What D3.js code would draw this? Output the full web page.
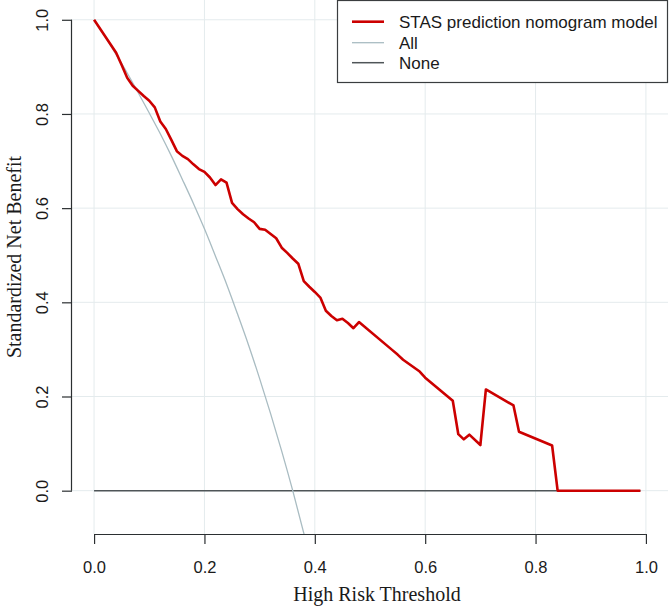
<!DOCTYPE html>
<html>
<head>
<meta charset="utf-8">
<script src="https://cdn.jsdelivr.net/npm/d3@7"></script>
<style>
  html, body { margin: 0; padding: 0; background: #fff; }
  svg { display: block; }
</style>
</head>
<body>
<svg id="chart" width="669" height="608"></svg>
<script>
// ---- data ----
const seriesNames = ["STAS prediction nomogram model", "All", "None"];

const modelThresholds = [0, 0.04, 0.05, 0.06, 0.07, 0.08, 0.09, 0.10, 0.11, 0.12, 0.13, 0.14, 0.15, 0.16, 0.17, 0.18, 0.19, 0.20,
  0.21, 0.22, 0.23, 0.24, 0.25, 0.26, 0.27, 0.28, 0.29, 0.30, 0.31, 0.32, 0.33, 0.34, 0.35, 0.36, 0.37, 0.38, 0.39, 0.40,
  0.41, 0.42, 0.43, 0.44, 0.45, 0.46, 0.47, 0.48, 0.54, 0.55, 0.56, 0.59, 0.60, 0.65, 0.66, 0.67, 0.68, 0.70,
  0.71, 0.76, 0.77, 0.83, 0.84, 0.99];
const modelBenefit = [1.000, 0.930, 0.904, 0.877, 0.860, 0.849, 0.838, 0.828, 0.814, 0.784, 0.768, 0.745, 0.721, 0.711, 0.704, 0.693, 0.683, 0.677,
  0.665, 0.649, 0.661, 0.654, 0.611, 0.598, 0.587, 0.578, 0.570, 0.556, 0.554, 0.545, 0.536, 0.516, 0.505, 0.493, 0.482, 0.445, 0.433, 0.422,
  0.410, 0.382, 0.371, 0.362, 0.365, 0.356, 0.345, 0.358, 0.299, 0.289, 0.278, 0.253, 0.240, 0.191, 0.120, 0.109, 0.119, 0.097,
  0.215, 0.181, 0.125, 0.096, 0.000, 0.000];

const allThresholds = [0, 0.02, 0.04, 0.06, 0.08, 0.10, 0.12, 0.14, 0.16, 0.18, 0.20, 0.22, 0.24, 0.26, 0.28, 0.30, 0.32, 0.34, 0.36, 0.38, 0.39];
const allBenefit = [1.000, 0.964, 0.926, 0.887, 0.845, 0.802, 0.758, 0.711, 0.661, 0.610, 0.556, 0.498, 0.439, 0.375, 0.309, 0.238, 0.163, 0.084, 0.000, -0.090, -0.137];

const noneThresholds = [0, 0.99];
const noneBenefit = [0, 0];

const xTicks = [0, 0.2, 0.4, 0.6, 0.8, 1.0];
const yTicks = [0, 0.2, 0.4, 0.6, 0.8, 1.0];
const xTitle = "High Risk Threshold";
const yTitle = "Standardized Net Benefit";

// ---- layout ----
const svg = d3.select("#chart");
const plot = { left: 72, right: 668, top: 0, bottom: 534 };
const x = d3.scaleLinear().domain([-0.04, 1.04]).range([plot.left, plot.right]);
const y = d3.scaleLinear().domain([-0.092, 1.042]).range([plot.bottom, plot.top]);

const colors = { model: "#cc0000", all: "#a9bcc2", none: "#4f5558", grid: "#e4ebed", axis: "#2b2f31" };

svg.append("defs").append("clipPath").attr("id", "clip")
  .append("rect").attr("x", plot.left).attr("y", plot.top)
  .attr("width", plot.right - plot.left).attr("height", plot.bottom - plot.top);

// grid
const grid = svg.append("g");
grid.selectAll("line.v").data(xTicks).join("line")
  .attr("x1", d => x(d)).attr("x2", d => x(d))
  .attr("y1", plot.top).attr("y2", plot.bottom)
  .attr("stroke", colors.grid).attr("stroke-width", 1);
grid.selectAll("line.h").data(yTicks).join("line")
  .attr("y1", d => y(d)).attr("y2", d => y(d))
  .attr("x1", plot.left).attr("x2", plot.right)
  .attr("stroke", colors.grid).attr("stroke-width", 1);

const line = d3.line().x(d => x(d[0])).y(d => y(d[1]));
const lines = svg.append("g").attr("clip-path", "url(#clip)");

lines.append("path").datum(noneThresholds.map((t, i) => [t, noneBenefit[i]]))
  .attr("d", line).attr("fill", "none").attr("stroke", colors.none).attr("stroke-width", 1.5);
lines.append("path").datum(allThresholds.map((t, i) => [t, allBenefit[i]]))
  .attr("d", d3.line().x(d => x(d[0])).y(d => y(d[1])).curve(d3.curveMonotoneX))
  .attr("fill", "none").attr("stroke", colors.all).attr("stroke-width", 1.3);
lines.append("path").datum(modelThresholds.map((t, i) => [t, modelBenefit[i]]))
  .attr("d", line).attr("fill", "none").attr("stroke", colors.model)
  .attr("stroke-width", 2.6).attr("stroke-linejoin", "round");

// axes
const tickFont = "'Liberation Sans', Arial, sans-serif";
const fmt = d3.format(".1f");
const xAxis = svg.append("g").attr("transform", `translate(0,${plot.bottom})`)
  .call(d3.axisBottom(x).tickValues(xTicks).tickSize(10).tickFormat(fmt));
xAxis.select(".domain").remove();
xAxis.append("line").attr("x1", x(0)).attr("x2", x(1)).attr("y1", 0.5).attr("y2", 0.5)
  .attr("stroke", colors.axis).attr("stroke-width", 1.2);
xAxis.selectAll(".tick line").attr("stroke", colors.axis).attr("stroke-width", 1.2);
xAxis.selectAll(".tick text").attr("y", 39).attr("dy", null)
  .style("font-family", tickFont).style("font-size", "16.5px").attr("fill", "#1a1a1a");

const yAxis = svg.append("g").attr("transform", `translate(${plot.left},0)`)
  .call(d3.axisLeft(y).tickValues(yTicks).tickSize(10).tickFormat(fmt));
yAxis.select(".domain").remove();
yAxis.append("line").attr("y1", y(0)).attr("y2", y(1)).attr("x1", -0.5).attr("x2", -0.5)
  .attr("stroke", colors.axis).attr("stroke-width", 1.2);
yAxis.selectAll(".tick line").attr("stroke", colors.axis).attr("stroke-width", 1.2);
yAxis.selectAll(".tick text")
  .attr("transform", "rotate(-90)").attr("x", 0).attr("y", -24.5).attr("dy", null)
  .attr("text-anchor", "middle")
  .style("font-family", tickFont).style("font-size", "16.5px").attr("fill", "#1a1a1a");

// titles
const titleFont = "'Liberation Serif', 'Times New Roman', serif";
svg.append("text").attr("x", 377).attr("y", 601).attr("text-anchor", "middle")
  .style("font-family", titleFont).style("font-size", "20px").attr("fill", "#1a1a1a").text(xTitle);
svg.append("text").attr("transform", "translate(21,257) rotate(-90)").attr("text-anchor", "middle")
  .style("font-family", titleFont).style("font-size", "20px").attr("fill", "#1a1a1a").text(yTitle);

// legend
const legend = svg.append("g");
legend.append("rect").attr("x", 337.5).attr("y", 0.5).attr("width", 330).attr("height", 82)
  .attr("fill", "#fff").attr("stroke", "#3a3d3f").attr("stroke-width", 1.2);
const legendColors = [colors.model, colors.all, colors.none];
const legendWidths = [2.6, 1.3, 1.5];
const rowY = [21.7, 42.7, 62.7];
seriesNames.forEach((name, i) => {
  legend.append("line").attr("x1", 352).attr("x2", 384).attr("y1", rowY[i]).attr("y2", rowY[i])
    .attr("stroke", legendColors[i]).attr("stroke-width", legendWidths[i]);
  legend.append("text").attr("x", 399).attr("y", rowY[i] + 6)
    .style("font-family", tickFont).style("font-size", "17px").attr("fill", "#1a1a1a").text(name);
});
</script>
</body>
</html>
